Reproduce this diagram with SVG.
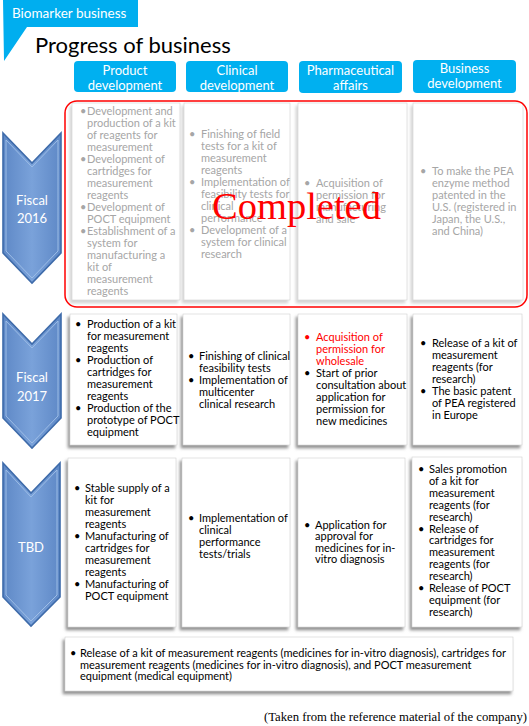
<svg xmlns="http://www.w3.org/2000/svg" width="529" height="726" viewBox="0 0 529 726">
<defs>
<style>
.t{font-family:Lato,"Open Sans","Noto Sans",sans-serif;font-size:11px;fill:#000}
.g{fill:#A6A6A6}
.r{fill:#FF0000}
.hd{font-family:Lato,"Open Sans",sans-serif;font-size:13px;fill:#fff;text-anchor:middle}
.hb{fill:#00B0F0}
.box{fill:#fff;stroke:#D0D0D0;stroke-width:0.6}
.sh{filter:url(#sh)}
.shl{filter:url(#shl)}
.arr{fill:url(#ag);stroke:#3E6BAA;stroke-width:1.6}
.arri{fill:none;stroke:#9DBDE6;stroke-width:1}
.al{font-family:Lato,"Open Sans",sans-serif;font-size:13px;fill:#fff;text-anchor:middle}
</style>
<linearGradient id="ag" x1="0" y1="0" x2="1" y2="0">
<stop offset="0" stop-color="#5E88C6"/>
<stop offset="0.5" stop-color="#7AA2DA"/>
<stop offset="1" stop-color="#5E88C6"/>
</linearGradient>
<filter id="sh" x="-10%" y="-10%" width="120%" height="120%">
<feDropShadow dx="-2" dy="3" stdDeviation="1.4" flood-color="#7F7F7F" flood-opacity="0.85"/>
</filter>
<filter id="shl" x="-10%" y="-10%" width="120%" height="120%">
<feDropShadow dx="-2" dy="3" stdDeviation="1.4" flood-color="#7F7F7F" flood-opacity="0.35"/>
</filter>
</defs>
<rect width="529" height="726" fill="#fff"/>

<g id="tab">
<polygon points="3,0 138,0 138,27 27,27 4,61" fill="#00AEEF"/>
<text x="12" y="18" font-family="Lato,'Open Sans',sans-serif" font-size="13.5" fill="#fff">Biomarker business</text>
</g>
<g id="title">
<text x="35" y="53" font-family="Lato,'Open Sans',sans-serif" font-size="22" fill="#000">Progress of business</text>
</g>

<g id="hdr-product">
<rect class="hb" x="74" y="61" width="102" height="31" rx="4"/>
<text class="hd" x="125" y="74.5">Product</text>
<text class="hd" x="125" y="89.5">development</text>
</g>
<g id="hdr-clinical">
<rect class="hb" x="186" y="61" width="102" height="31" rx="4"/>
<text class="hd" x="237" y="74.5">Clinical</text>
<text class="hd" x="237" y="89.5">development</text>
</g>
<g id="hdr-pharma">
<rect class="hb" x="299" y="61" width="103" height="32" rx="4"/>
<text class="hd" x="350.5" y="74.5">Pharmaceutical</text>
<text class="hd" x="350.5" y="89.5">affairs</text>
</g>
<g id="hdr-business">
<rect class="hb" x="413" y="60" width="103" height="33" rx="4"/>
<text class="hd" x="464.5" y="73">Business</text>
<text class="hd" x="464.5" y="88">development</text>
</g>

<g id="arrow-2016">
<polygon class="arr" points="3,133 32,163 61,133 61,253 32,283 3,253"/>
<polygon class="arri" points="6,140 32,167 58,140 58,251 32,278 6,251"/>
<text class="al" x="32" y="205">Fiscal</text>
<text class="al" x="32" y="223">2016</text>
</g>
<g id="arrow-2017">
<polygon class="arr" points="3,314 32,344 61,314 61,418 32,448 3,418"/>
<polygon class="arri" points="6,321 32,348 58,321 58,416 32,443 6,416"/>
<text class="al" x="32" y="382">Fiscal</text>
<text class="al" x="32" y="401">2017</text>
</g>
<g id="arrow-tbd">
<polygon class="arr" points="3,463 31,493 60,463 60,597 31,626 3,597"/>
<polygon class="arri" points="6,470 31,497 57,470 57,595 31,621 6,595"/>
<text class="al" x="31" y="552">TBD</text>
</g>

<g id="fy2016">
<rect class="box shl" x="72" y="103" width="108" height="197"/>
<rect class="box shl" x="184" y="103" width="106" height="197"/>
<rect class="box shl" x="298" y="103" width="109" height="197"/>
<rect class="box shl" x="413" y="103" width="110" height="197"/>
<text class="t g"><tspan x="80" y="115">•</tspan><tspan x="80" y="163">•</tspan><tspan x="80" y="211">•</tspan><tspan x="80" y="235">•</tspan></text>
<text class="t g"><tspan x="87" y="115">Development and</tspan><tspan x="87" y="127">production of a kit</tspan><tspan x="87" y="139">of reagents for</tspan><tspan x="87" y="151">measurement</tspan><tspan x="87" y="163">Development of</tspan><tspan x="87" y="175">cartridges for</tspan><tspan x="87" y="187">measurement</tspan><tspan x="87" y="199">reagents</tspan><tspan x="87" y="211">Development of</tspan><tspan x="87" y="223">POCT equipment</tspan><tspan x="87" y="235">Establishment of a</tspan><tspan x="87" y="247">system for</tspan><tspan x="87" y="259">manufacturing a</tspan><tspan x="87" y="271">kit of</tspan><tspan x="87" y="283">measurement</tspan><tspan x="87" y="295">reagents</tspan></text>
<text class="t g"><tspan x="189" y="138">•</tspan><tspan x="189" y="186">•</tspan><tspan x="189" y="234">•</tspan></text>
<text class="t g"><tspan x="201" y="138">Finishing of field</tspan><tspan x="201" y="150">tests for a kit of</tspan><tspan x="201" y="162">measurement</tspan><tspan x="201" y="174">reagents</tspan><tspan x="201" y="186">Implementation of</tspan><tspan x="201" y="198">feasibility tests for</tspan><tspan x="201" y="210">clinical</tspan><tspan x="201" y="222">performance</tspan><tspan x="201" y="234">Development of a</tspan><tspan x="201" y="246">system for clinical</tspan><tspan x="201" y="258">research</tspan></text>
<text class="t g"><tspan x="304" y="187">•</tspan></text>
<text class="t g"><tspan x="316" y="187">Acquisition of</tspan><tspan x="316" y="199">permission for</tspan><tspan x="316" y="211">manufacturing</tspan><tspan x="316" y="223">and sale</tspan></text>
<text class="t g"><tspan x="420" y="175">•</tspan></text>
<text class="t g"><tspan x="432" y="175">To make the PEA</tspan><tspan x="432" y="187">enzyme method</tspan><tspan x="432" y="199">patented in the</tspan><tspan x="432" y="211">U.S. (registered in</tspan><tspan x="432" y="223">Japan, the U.S.,</tspan><tspan x="432" y="235">and China)</tspan></text>
<rect x="65" y="101" width="462" height="206" rx="12" fill="none" stroke="#FF0000" stroke-width="1.5"/>
<text x="212" y="219" font-family="'Liberation Serif','Times New Roman',serif" font-size="38.5" fill="#FF0000">Completed</text>
</g>

<g id="fy2017">
<rect class="box sh" x="70" y="314" width="107" height="131"/>
<rect class="box sh" x="183" y="314" width="107" height="131"/>
<rect class="box sh" x="298" y="314" width="109" height="131"/>
<rect class="box sh" x="413" y="314" width="109" height="131"/>
<text class="t"><tspan x="75" y="328">•</tspan><tspan x="75" y="364">•</tspan><tspan x="75" y="412">•</tspan></text>
<text class="t"><tspan x="87" y="328">Production of a kit</tspan><tspan x="87" y="340">for measurement</tspan><tspan x="87" y="352">reagents</tspan><tspan x="87" y="364">Production of</tspan><tspan x="87" y="376">cartridges for</tspan><tspan x="87" y="388">measurement</tspan><tspan x="87" y="400">reagents</tspan><tspan x="87" y="412">Production of the</tspan><tspan x="87" y="424">prototype of POCT</tspan><tspan x="87" y="436">equipment</tspan></text>
<text class="t"><tspan x="188" y="360">•</tspan><tspan x="188" y="384">•</tspan></text>
<text class="t"><tspan x="199" y="360">Finishing of clinical</tspan><tspan x="199" y="372">feasibility tests</tspan><tspan x="199" y="384">Implementation of</tspan><tspan x="199" y="396">multicenter</tspan><tspan x="199" y="408">clinical research</tspan></text>
<text class="t r"><tspan x="304" y="341">•</tspan><tspan x="316" y="341">Acquisition of</tspan><tspan x="316" y="353">permission for</tspan><tspan x="316" y="365">wholesale</tspan></text>
<text class="t"><tspan x="304" y="377">•</tspan><tspan x="316" y="377">Start of prior</tspan><tspan x="316" y="389">consultation about</tspan><tspan x="316" y="401">application for</tspan><tspan x="316" y="413">permission for</tspan><tspan x="316" y="425">new medicines</tspan></text>
<text class="t"><tspan x="420" y="347">•</tspan><tspan x="420" y="395">•</tspan></text>
<text class="t"><tspan x="432" y="347">Release of a kit of</tspan><tspan x="432" y="359">measurement</tspan><tspan x="432" y="371">reagents (for</tspan><tspan x="432" y="383">research)</tspan><tspan x="432" y="395">The basic patent</tspan><tspan x="432" y="407">of PEA registered</tspan><tspan x="432" y="419">in Europe</tspan></text>
</g>

<g id="tbd">
<rect class="box sh" x="68" y="458" width="108" height="169"/>
<rect class="box sh" x="182" y="458" width="108" height="169"/>
<rect class="box sh" x="298" y="458" width="107" height="169"/>
<rect class="box sh" x="412" y="457" width="110" height="170"/>
<text class="t"><tspan x="74" y="492">•</tspan><tspan x="74" y="540">•</tspan><tspan x="74" y="588">•</tspan></text>
<text class="t"><tspan x="85" y="492">Stable supply of a</tspan><tspan x="85" y="504">kit for</tspan><tspan x="85" y="516">measurement</tspan><tspan x="85" y="528">reagents</tspan><tspan x="85" y="540">Manufacturing of</tspan><tspan x="85" y="552">cartridges for</tspan><tspan x="85" y="564">measurement</tspan><tspan x="85" y="576">reagents</tspan><tspan x="85" y="588">Manufacturing of</tspan><tspan x="85" y="600">POCT equipment</tspan></text>
<text class="t"><tspan x="188" y="522">•</tspan></text>
<text class="t"><tspan x="199" y="522">Implementation of</tspan><tspan x="199" y="534">clinical</tspan><tspan x="199" y="546">performance</tspan><tspan x="199" y="558">tests/trials</tspan></text>
<text class="t"><tspan x="304" y="529">•</tspan></text>
<text class="t"><tspan x="315" y="529">Application for</tspan><tspan x="315" y="540.4">approval for</tspan><tspan x="315" y="551.8">medicines for in-</tspan><tspan x="315" y="563.2">vitro diagnosis</tspan></text>
<text class="t"><tspan x="418" y="473">•</tspan><tspan x="418" y="532.5">•</tspan><tspan x="418" y="592">•</tspan></text>
<text class="t"><tspan x="429" y="473">Sales promotion</tspan><tspan x="429" y="484.9">of a kit for</tspan><tspan x="429" y="496.8">measurement</tspan><tspan x="429" y="508.7">reagents (for</tspan><tspan x="429" y="520.6">research)</tspan><tspan x="429" y="532.5">Release of</tspan><tspan x="429" y="544.4">cartridges for</tspan><tspan x="429" y="556.3">measurement</tspan><tspan x="429" y="568.2">reagents (for</tspan><tspan x="429" y="580.1">research)</tspan><tspan x="429" y="592">Release of POCT</tspan><tspan x="429" y="603.9">equipment (for</tspan><tspan x="429" y="615.8">research)</tspan></text>
</g>

<g id="release">
<rect class="box sh" x="65" y="637" width="448" height="54"/>
<text class="t"><tspan x="70" y="657">•</tspan></text>
<text class="t"><tspan x="80" y="657">Release of a kit of measurement reagents (medicines for in-vitro diagnosis), cartridges for</tspan><tspan x="80" y="669">measurement reagents (medicines for in-vitro diagnosis), and POCT measurement</tspan><tspan x="80" y="680">equipment (medical equipment)</tspan></text>
</g>

<g id="footer">
<text x="264" y="721" font-family="'Liberation Serif','Times New Roman',serif" font-size="12" fill="#000" textLength="263" lengthAdjust="spacingAndGlyphs">(Taken from the reference material of the company)</text>
</g>
</svg>
